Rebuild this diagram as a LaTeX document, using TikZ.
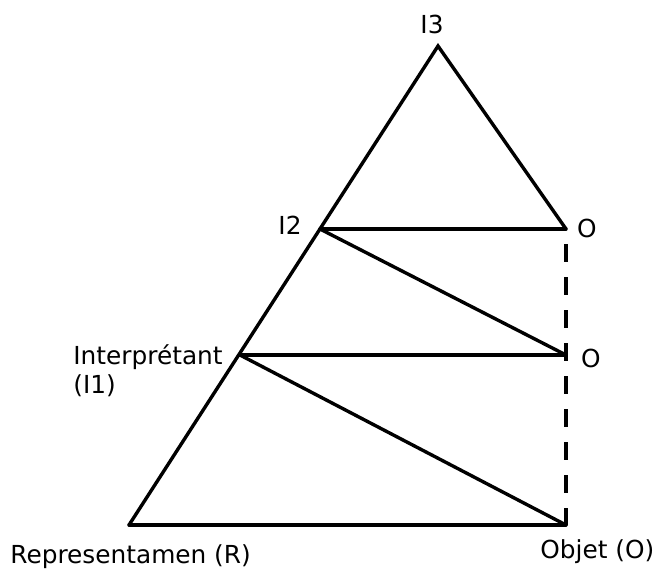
\documentclass[tikz,border=0pt]{standalone}
\usepackage{fontspec}
\setmainfont{DejaVu Sans}
\usetikzlibrary{positioning}
\begin{document}
\begin{tikzpicture}[x=0.5pt, y=-0.5pt,
    edge/.style={line width=1.7pt, line cap=round},
    dashedge/.style={line width=1.7pt, dash pattern=on 9pt off 7.5pt, dash phase=9pt},
    lbl/.style={font=\fontsize{12.4}{15}\selectfont, inner sep=0pt}]
  \useasboundingbox (0,0) rectangle (658,569);
  % points of the sign triangle
  \coordinate (R) at (129,525);
  \coordinate (I3) at (438,46);
  \coordinate (Obj) at (566,525);
  \coordinate (I2) at (320,229);
  \coordinate (I1) at (240,355);
  \coordinate (O2) at (566,229);
  \coordinate (O1) at (566,355);
  % triangle and its inner links
  \draw[edge] (R) -- (I3) -- (O2);
  \draw[edge] (R) -- (Obj);
  \draw[edge] (I2) -- (O2);
  \draw[edge] (I2) -- (O1);
  \draw[edge] (I1) -- (O1);
  \draw[edge] (I1) -- (Obj);
  \draw[dashedge] (O2) -- (Obj);
  % labels
  \node[lbl] (tI3) at (432,24) {I3};
  \node[lbl] (tI2) at (290,225) {I2};
  \node[lbl] (tO2) at (587,228) {O};
  \node[lbl] (tO1) at (591,358) {O};
  \node[lbl, anchor=base west] (tI1) at (73,364) {Interprétant};
  \node[lbl, anchor=base west] (tI1b) at ([yshift=-14.5pt]tI1.base west) {(I1)};
  \node[lbl, anchor=base west] (tR) at (10,563) {Representamen (R)};
  \node[lbl, anchor=base west] (tObj) at (540,558) {Objet (O)};
\end{tikzpicture}
\end{document}
